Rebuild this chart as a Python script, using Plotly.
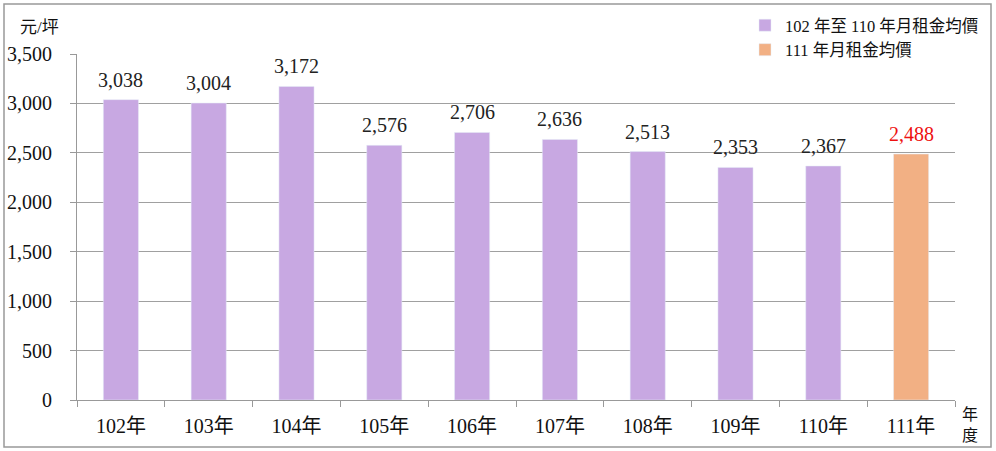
import plotly.graph_objects as go

years = ["102年", "103年", "104年", "105年", "106年", "107年", "108年", "109年", "110年"]
rents = [3038, 3004, 3172, 2576, 2706, 2636, 2513, 2353, 2367]
year_now = ["111年"]
rent_now = [2488]
y_ticks = [0, 500, 1000, 1500, 2000, 2500, 3000, 3500]

serif = "Liberation Serif, Noto Sans CJK TC, serif"

fig = go.Figure()

fig.add_trace(go.Bar(
    name="102 年至 110 年月租金均價",
    x=years, y=rents,
    width=0.4,
    marker_color="#c8a8e2",
    hovertemplate="%{y:,.0f}"
))

fig.add_trace(go.Bar(
    name="111 年月租金均價",
    x=year_now, y=rent_now,
    width=0.4,
    marker_color="#f2b084",
    hovertemplate="%{y:,.0f}"
))

# Etiquettes de valeurs
for xs, ys, color in [(years, rents, "#222222"), (year_now, rent_now, "#ee1111")]:
    for x, y in zip(xs, ys):
        fig.add_annotation(
            x=x, y=y, text=f"{y:,}", showarrow=False,
            yanchor="bottom", yshift=7,
            font=dict(family=serif, size=20, color=color)
        )

# Habillage
fig.update_layout(
    width=996, height=451,
    barmode="overlay",
    plot_bgcolor="white",
    paper_bgcolor="white",
    margin=dict(t=54, b=51, l=77, r=41, autoexpand=False),
    font=dict(family=serif, size=20, color="#111111"),
    legend=dict(
        xref="container", yref="container",
        x=745 / 996, y=1 - 8 / 451, xanchor="left", yanchor="top",
        font=dict(size=16.5), bgcolor="rgba(255,255,255,0)",
        tracegroupgap=0, itemwidth=30
    ),
    xaxis=dict(
        categoryorder="array", categoryarray=years + year_now,
        showline=True, linecolor="#999999",
        ticks="outside", tickson="boundaries", tickcolor="#999999", ticklen=6,
        showgrid=False, ticklabelstandoff=8
    ),
    yaxis=dict(
        range=[0, 3500], tickvals=y_ticks, tickformat=",",
        showline=True, linecolor="#999999",
        ticks="outside", tickcolor="#999999", ticklen=6,
        gridcolor="#a0a0a0", zeroline=False, ticklabelstandoff=14
    ),
    shapes=[dict(
        type="rect", xref="paper", yref="paper",
        x0=(4 - 77) / 878, x1=(991 - 77) / 878,
        y0=-(447 - 400) / 346, y1=(400 - 4) / 346,
        line=dict(color="#999999", width=1.5)
    )],
)

fig.add_annotation(text="元/坪", xref="paper", yref="paper",
                   x=(18 - 77) / 878, y=(400 - 27) / 346, xanchor="left", yanchor="middle",
                   showarrow=False, font=dict(size=17))
fig.add_annotation(text="年<br>度", xref="paper", yref="paper",
                   x=(970 - 77) / 878, y=(400 - 425) / 346, xanchor="center", yanchor="middle",
                   showarrow=False, font=dict(size=16))

fig.write_html("out.html", config=dict(displayModeBar=False),
               post_script="document.body.style.margin='0';")
